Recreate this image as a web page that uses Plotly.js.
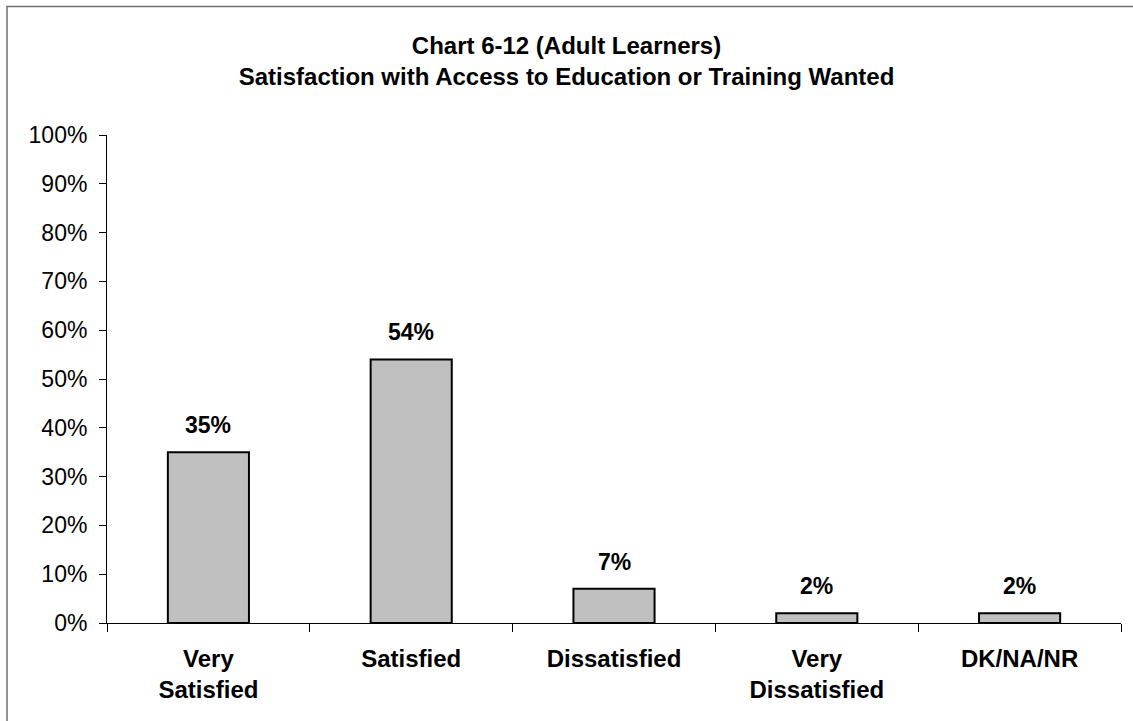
<!DOCTYPE html>
<html>
<head>
<meta charset="utf-8">
<script src="https://cdn.plot.ly/plotly-3.0.1.min.js"></script>
<style>
html,body{margin:0;padding:0;background:#fff;}
#chart{width:1133px;height:721px;}
</style>
</head>
<body>
<div id="chart"></div>
<script>
const categories = ["Very<br>Satisfied", "Satisfied", "Dissatisfied", "Very<br>Dissatisfied", "DK/NA/NR"];
const values = [0.35, 0.54, 0.07, 0.02, 0.02];
const valueLabels = ["35%", "54%", "7%", "2%", "2%"];
const titleText = "Chart 6-12 (Adult Learners)<br>Satisfaction with Access to Education or Training Wanted";

const FONT = "Liberation Sans, Arial, sans-serif";
const ml = 107, mr = 12, mt = 135, mb = 98;
const W = 1133, H = 721;
const pw = W - ml - mr, ph = H - mt - mb;
const px = x => (x - ml) / pw;
const py = y => (H - mb - y) / ph;

const trace = {
  type: "bar",
  x: categories,
  y: values,
  width: 0.4,
  marker: {color: "#C0C0C0", line: {color: "#000000", width: 2}},
  hoverinfo: "none"
};

const annotations = categories.map((c, i) => ({
  x: c, y: values[i], xref: "x", yref: "y",
  text: "<b>" + valueLabels[i] + "</b>",
  showarrow: false, yanchor: "middle", xanchor: "center", yshift: 27,
  font: {family: FONT, size: 23, color: "#000"}
}));

const layout = {
  width: W, height: H,
  margin: {l: ml, r: mr, t: mt, b: mb},
  paper_bgcolor: "#fff", plot_bgcolor: "#fff",
  font: {family: FONT, color: "#000"},
  showlegend: false,
  title: {
    text: "<b>" + titleText + "</b>",
    font: {size: 24, family: FONT, color: "#000"},
    x: 0.5, xref: "container", xanchor: "center",
    y: 1 - 54 / H, yref: "container", yanchor: "middle"
  },
  xaxis: {
    range: [-0.5, 4.5],
    showline: true, linecolor: "#000", linewidth: 1,
    ticks: "outside", tickson: "boundaries", ticklen: 8, tickcolor: "#000", tickwidth: 1,
    ticklabelstandoff: 14,
    tickfont: {size: 24, family: FONT, color: "#000", weight: "bold"},
    showgrid: false, zeroline: false, fixedrange: true
  },
  yaxis: {
    range: [0, 1],
    dtick: 0.1, tick0: 0, tickformat: ".0%",
    showline: true, linecolor: "#000", linewidth: 1,
    ticks: "outside", ticklen: 7, tickcolor: "#000", tickwidth: 1,
    ticklabelstandoff: 7,
    tickfont: {size: 23, family: FONT, color: "#000"},
    showgrid: false, zeroline: false, fixedrange: true
  },
  annotations: annotations,
  shapes: [{
    type: "rect", xref: "paper", yref: "paper",
    x0: px(7), x1: px(1140), y0: py(730), y1: py(6.5),
    line: {color: "#6e6e6e", width: 1.5}, fillcolor: "rgba(0,0,0,0)", layer: "below"
  }]
};

Plotly.newPlot("chart", [trace], layout, {displayModeBar: false, staticPlot: true});
</script>
</body>
</html>
